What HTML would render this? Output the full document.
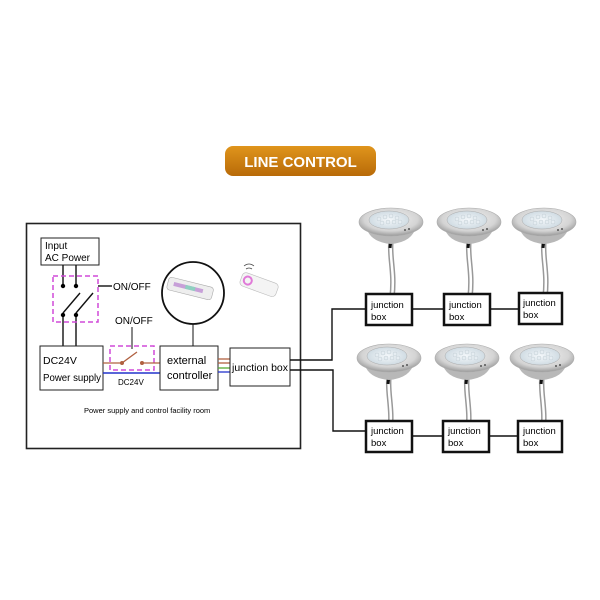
<!DOCTYPE html>
<html><head><style>
body{margin:0;background:#fff;}
svg{display:block;font-family:"Liberation Sans",sans-serif;}
</style></head><body>
<svg width="600" height="600" viewBox="0 0 600 600" xmlns="http://www.w3.org/2000/svg">
<defs>
<linearGradient id="btn" x1="0" y1="0" x2="0" y2="1"><stop offset="0" stop-color="#e0951c"/><stop offset="1" stop-color="#b86a08"/></linearGradient>
<radialGradient id="flange" cx="0.5" cy="0.4" r="0.6"><stop offset="0" stop-color="#f4f4f4"/><stop offset="0.7" stop-color="#d4d4d4"/><stop offset="1" stop-color="#9a9a9a"/></radialGradient>
<radialGradient id="lens" cx="0.5" cy="0.5" r="0.6"><stop offset="0" stop-color="#f4f8fb"/><stop offset="1" stop-color="#c9d6de"/></radialGradient>
<g id="lamp">
<path d="M-2,18 C-4,35 2,50 -1,75 M2,18 C0,35 6,50 3,75" stroke="#999" stroke-width="1.5" fill="none"/>
<path d="M0,17 L-1,26" stroke="#111" stroke-width="3"/>
<path d="M-25,4 Q-22,20 0,22 Q22,20 25,4 Z" fill="#b8b8b8"/>
<ellipse cx="0" cy="0" rx="32" ry="14" fill="url(#flange)" stroke="#aaa" stroke-width="0.6"/>
<ellipse cx="-2" cy="-2" rx="20" ry="9" fill="url(#lens)" stroke="#aaa" stroke-width="0.5"/>
<g fill="#e6edf2" stroke="#b7c4cc" stroke-width="0.4">
<circle cx="-12" cy="-3" r="2"/><circle cx="-6" cy="-5" r="2"/><circle cx="0" cy="-6" r="2"/><circle cx="6" cy="-4" r="2"/>
<circle cx="-9" cy="1" r="2"/><circle cx="-3" cy="0" r="2"/><circle cx="3" cy="0" r="2"/><circle cx="9" cy="0" r="2"/>
</g>
<circle cx="14" cy="8" r="1" fill="#555"/><circle cx="18" cy="7" r="1" fill="#555"/>
</g>
</defs>

<rect x="225" y="146" width="151" height="30" rx="8" fill="url(#btn)"/>
<text x="300.5" y="167" font-size="15" font-weight="bold" fill="#fff" text-anchor="middle">LINE CONTROL</text>

<rect x="26.5" y="223.5" width="274" height="225" fill="none" stroke="#222" stroke-width="1.6"/>

<rect x="41" y="238" width="58" height="27" fill="#fff" stroke="#222" stroke-width="1"/>
<text x="45" y="249" font-size="10">Input</text>
<text x="45" y="261" font-size="10">AC Power</text>

<g stroke="#111" stroke-width="1.4">
<line x1="63" y1="265" x2="63" y2="286"/><line x1="76" y1="265" x2="76" y2="286"/>
<line x1="63" y1="315" x2="63" y2="346"/><line x1="76" y1="315" x2="76" y2="346"/>
<line x1="63" y1="313" x2="80" y2="293"/><line x1="76" y1="313" x2="93" y2="293"/>
<line x1="98" y1="286" x2="112" y2="286"/>
</g>
<circle cx="63" cy="286" r="2.2"/><circle cx="76" cy="286" r="2.2"/><circle cx="63" cy="315" r="2.2"/><circle cx="76" cy="315" r="2.2"/>
<rect x="53" y="276" width="45" height="46" fill="none" stroke="#d04ad8" stroke-width="1.5" stroke-dasharray="5,3"/>
<text x="113" y="290" font-size="10">ON/OFF</text>

<rect x="40" y="346" width="63" height="44" fill="#fff" stroke="#222" stroke-width="1"/>
<text x="43" y="364" font-size="10.5">DC24V</text>
<text x="43" y="381" font-size="10" textLength="58" lengthAdjust="spacingAndGlyphs">Power supply</text>

<text x="115" y="324" font-size="10">ON/OFF</text>
<line x1="132" y1="327" x2="132" y2="349" stroke="#111" stroke-width="1"/>
<rect x="110" y="346" width="44" height="24" fill="none" stroke="#d04ad8" stroke-width="1.5" stroke-dasharray="5,3"/>
<g stroke="#b06040" stroke-width="1.3">
<line x1="103" y1="363" x2="122" y2="363"/><line x1="142" y1="363" x2="160" y2="363"/>
<line x1="122" y1="363" x2="137" y2="352"/>
</g>
<circle cx="122" cy="363" r="2" fill="#b06040"/><circle cx="142" cy="363" r="2" fill="#b06040"/>
<line x1="103" y1="373" x2="160" y2="373" stroke="#2233cc" stroke-width="1.5"/>
<text x="118" y="385" font-size="8">DC24V</text>

<rect x="160" y="346" width="58" height="44" fill="#fff" stroke="#222" stroke-width="1"/>
<text x="167" y="364" font-size="11">external</text>
<text x="167" y="379" font-size="11">controller</text>

<circle cx="193" cy="293" r="31" fill="#fff" stroke="#111" stroke-width="1.8"/>
<line x1="193" y1="324" x2="193" y2="346" stroke="#111" stroke-width="1"/>
<g transform="rotate(14 190 289)">
<rect x="167" y="282" width="46" height="13" rx="3" fill="#eee" stroke="#aaa" stroke-width="0.6"/>
<rect x="173" y="286" width="30" height="4" fill="#c7a0d8"/>
<rect x="185" y="286" width="10" height="4" fill="#8fd0c0"/>
</g>
<g transform="rotate(20 260 285)">
<rect x="240" y="278" width="38" height="14" rx="4" fill="#f4f4f4" stroke="#bbb" stroke-width="0.6"/>
<circle cx="247" cy="285" r="4" fill="none" stroke="#e07ad8" stroke-width="2"/>
</g>
<path d="M244,266 q5,-4 10,0 M246,269 q3,-2 6,0" stroke="#444" fill="none" stroke-width="0.8"/>

<g stroke-width="1.3">
<line x1="218" y1="359" x2="230" y2="359" stroke="#b06040"/>
<line x1="218" y1="363" x2="230" y2="363" stroke="#b06040"/>
<line x1="218" y1="368" x2="230" y2="368" stroke="#55aa33"/>
<line x1="218" y1="372" x2="230" y2="372" stroke="#2233cc"/>
</g>
<rect x="230" y="348" width="60" height="38" fill="#fff" stroke="#222" stroke-width="1"/>
<text x="232" y="371" font-size="10.5" textLength="56" lengthAdjust="spacingAndGlyphs">junction box</text>

<g stroke="#111" stroke-width="1.4" fill="none">
<polyline points="290,360 332,360 332,309 366,309"/>
<polyline points="290,370 333,370 333,431 366,431"/>
<line x1="412" y1="309" x2="444" y2="309"/><line x1="490" y1="309" x2="519" y2="309"/>
<line x1="412" y1="436" x2="443" y2="436"/><line x1="489" y1="436" x2="518" y2="436"/>
</g>

<use href="#lamp" x="391" y="222"/>
<use href="#lamp" x="469" y="222"/>
<use href="#lamp" x="544" y="222"/>
<use href="#lamp" x="389" y="358"/>
<use href="#lamp" x="467" y="358"/>
<use href="#lamp" x="542" y="358"/>

<g fill="#fff" stroke="#111" stroke-width="2.5">
<rect x="366" y="294" width="46" height="31"/><rect x="444" y="294" width="46" height="31"/><rect x="519" y="293" width="43" height="31"/>
<rect x="366" y="421" width="46" height="31"/><rect x="443" y="421" width="46" height="31"/><rect x="518" y="421" width="44" height="31"/>
</g>
<g font-size="9.5">
<text x="371" y="308">junction</text><text x="371" y="320">box</text>
<text x="449" y="308">junction</text><text x="449" y="320">box</text>
<text x="523" y="306">junction</text><text x="523" y="318">box</text>
<text x="371" y="434">junction</text><text x="371" y="446">box</text>
<text x="448" y="434">junction</text><text x="448" y="446">box</text>
<text x="523" y="434">junction</text><text x="523" y="446">box</text>
</g>
<text x="84" y="413" font-size="7.5">Power supply and control facility room</text>
</svg>
</body></html>
